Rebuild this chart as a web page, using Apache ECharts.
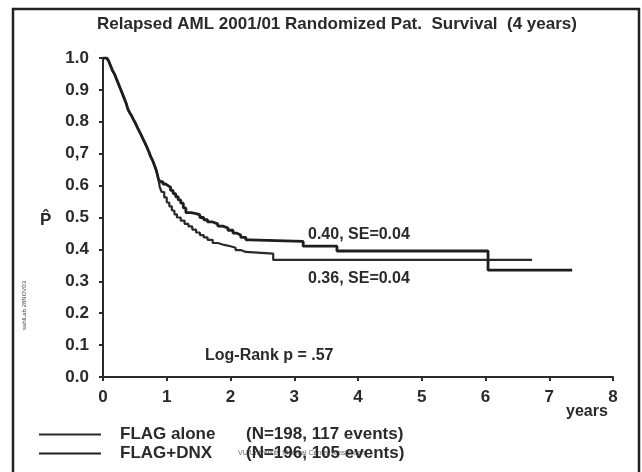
<!DOCTYPE html>
<html>
<head>
    <meta charset="utf-8">
    <title>Relapsed AML 2001/01</title>
    <script src="https://cdn.jsdelivr.net/npm/echarts@6/dist/echarts.min.js"></script>
    <style>
        html, body { margin: 0; padding: 0; background: #fff; }
        #main { width: 642px; height: 472px; }
    </style>
</head>
<body>
    <div id="main"></div>
    <script type="text/javascript">
        // common part of both curves (years, survival)
        var commonT = [0, 0.06, 0.09, 0.12, 0.15, 0.18, 0.21, 0.24, 0.27, 0.3, 0.33, 0.36, 0.39, 0.42, 0.45, 0.48, 0.51, 0.54, 0.57, 0.6, 0.63, 0.66, 0.69, 0.72, 0.75, 0.78, 0.81, 0.84, 0.87];
        var commonP = [1.0, 0.995, 0.99, 0.975, 0.96, 0.95, 0.935, 0.92, 0.905, 0.89, 0.875, 0.86, 0.84, 0.828, 0.818, 0.806, 0.795, 0.782, 0.77, 0.758, 0.745, 0.733, 0.72, 0.705, 0.69, 0.678, 0.662, 0.645, 0.62];

        // FLAG+DNX (upper curve)
        var dnxT = [0.9, 0.94, 0.98, 1.02, 1.06, 1.1, 1.14, 1.18, 1.22, 1.26, 1.3, 1.38, 1.46, 1.52, 1.58, 1.64, 1.72, 1.8, 1.88, 1.96, 2.04, 2.1, 2.16, 2.24, 2.3, 3.14, 3.67, 6.04, 7.36];
        var dnxP = [0.612, 0.605, 0.6, 0.595, 0.585, 0.575, 0.565, 0.555, 0.545, 0.53, 0.515, 0.512, 0.508, 0.5, 0.493, 0.486, 0.48, 0.473, 0.467, 0.46, 0.451, 0.445, 0.438, 0.43, 0.425, 0.41, 0.395, 0.335, 0.335];

        // FLAG alone (lower curve)
        var aloneT = [0.89, 0.92, 0.96, 1.0, 1.04, 1.08, 1.12, 1.16, 1.22, 1.28, 1.34, 1.4, 1.46, 1.52, 1.58, 1.64, 1.72, 1.8, 1.9, 2.0, 2.08, 2.16, 2.24, 2.67, 6.73];
        var aloneP = [0.595, 0.58, 0.563, 0.547, 0.535, 0.522, 0.51, 0.5, 0.49, 0.48, 0.472, 0.462, 0.453, 0.445, 0.438, 0.43, 0.42, 0.414, 0.41, 0.405, 0.398, 0.392, 0.387, 0.367, 0.367];

        var yLabels = ['0.0', '0.1', '0.2', '0.3', '0.4', '0.5', '0.6', '0,7', '0.8', '0.9', '1.0'];
        var xLabels = ['0', '1', '2', '3', '4', '5', '6', '7', '8'];

        var seriesNames = ['FLAG alone', 'FLAG+DNX'];
        var seriesInfo = ['(N=198, 117 events)', '(N=196, 105 events)'];

        function toPairs(t, p) {
            var out = [];
            for (var i = 0; i < commonT.length; i++) out.push([commonT[i], commonP[i]]);
            for (var j = 0; j < t.length; j++) out.push([t[j], p[j]]);
            return out;
        }

        var font = 'Liberation Sans, Arial, sans-serif';
        var ink = '#2a2a2a';

        var chart = echarts.init(document.getElementById('main'));
        var option = {
            backgroundColor: '#fff',
            animation: false,
            grid: { left: 103, right: 29, top: 58, bottom: 95 },
            xAxis: {
                type: 'value', min: 0, max: 8, interval: 1,
                axisLine: { show: true, lineStyle: { color: ink, width: 2 } },
                axisTick: { show: true, length: 4, lineStyle: { color: ink, width: 2 } },
                splitLine: { show: false },
                axisLabel: {
                    color: ink, fontFamily: font, fontWeight: 'bold', fontSize: 17, margin: 12,
                    formatter: function (v) { return xLabels[Math.round(v)]; }
                }
            },
            yAxis: {
                type: 'value', min: 0, max: 1, interval: 0.1,
                axisLine: { show: true, lineStyle: { color: ink, width: 2 } },
                axisTick: { show: true, length: 4, lineStyle: { color: ink, width: 2 } },
                splitLine: { show: false },
                axisLabel: {
                    color: ink, fontFamily: font, fontWeight: 'bold', fontSize: 17, margin: 14,
                    formatter: function (v) { return yLabels[Math.round(v * 10)]; }
                }
            },
            legend: {
                left: 34, top: 421, orient: 'vertical', itemWidth: 62, itemHeight: 2, itemGap: 2,
                icon: 'rect', selectedMode: false,
                data: seriesNames,
                formatter: function (name) {
                    var i = seriesNames.indexOf(name);
                    return '{a|' + name + '}{b|' + seriesInfo[i] + '}';
                },
                textStyle: {
                    padding: [0, 0, 0, 14],
                    rich: {
                        a: { width: 126, fontFamily: font, fontWeight: 'bold', fontSize: 17, color: ink },
                        b: { fontFamily: font, fontWeight: 'bold', fontSize: 17, color: ink }
                    }
                }
            },
            series: [
                {
                    name: 'FLAG alone', type: 'line', step: 'end', symbol: 'none',
                    data: toPairs(aloneT, aloneP),
                    lineStyle: { color: ink, width: 2.2 }, itemStyle: { color: ink }
                },
                {
                    name: 'FLAG+DNX', type: 'line', step: 'end', symbol: 'none',
                    data: toPairs(dnxT, dnxP),
                    lineStyle: { color: '#1e1e1e', width: 2.8 }, itemStyle: { color: '#1e1e1e' }
                }
            ],
            graphic: [
                { type: 'rect', shape: { x: 13, y: 9, width: 626, height: 490 }, style: { fill: 'none', stroke: '#222', lineWidth: 2.5 } },
                { type: 'text', x: 97, y: 16, style: { text: 'Relapsed AML 2001/01 Randomized Pat.  Survival  (4 years)', fontFamily: font, fontWeight: 'bold', fontSize: 17, fill: ink } },
                { type: 'text', x: 40, y: 212, style: { text: 'P\u0302', fontFamily: font, fontWeight: 'bold', fontSize: 17, fill: ink } },
                { type: 'text', x: 21, y: 330, rotation: Math.PI / 2, style: { text: 'sahlLab 28NOV03', fontFamily: font, fontSize: 6, fill: '#444' } },
                { type: 'text', x: 308, y: 227, style: { text: '0.40, SE=0.04', fontFamily: font, fontWeight: 'bold', fontSize: 16, fill: ink } },
                { type: 'text', x: 308, y: 271, style: { text: '0.36, SE=0.04', fontFamily: font, fontWeight: 'bold', fontSize: 16, fill: ink } },
                { type: 'text', x: 205, y: 348, style: { text: 'Log-Rank p = .57', fontFamily: font, fontWeight: 'bold', fontSize: 16, fill: ink } },
                { type: 'text', x: 566, y: 404, style: { text: 'years', fontFamily: font, fontWeight: 'bold', fontSize: 16, fill: ink } },
                { type: 'text', x: 238, y: 450, style: { text: 'VU University Medical Center Amsterdam', fontFamily: font, fontSize: 7, fill: '#666' } }
            ]
        };
        chart.setOption(option);
    </script>
</body>
</html>
